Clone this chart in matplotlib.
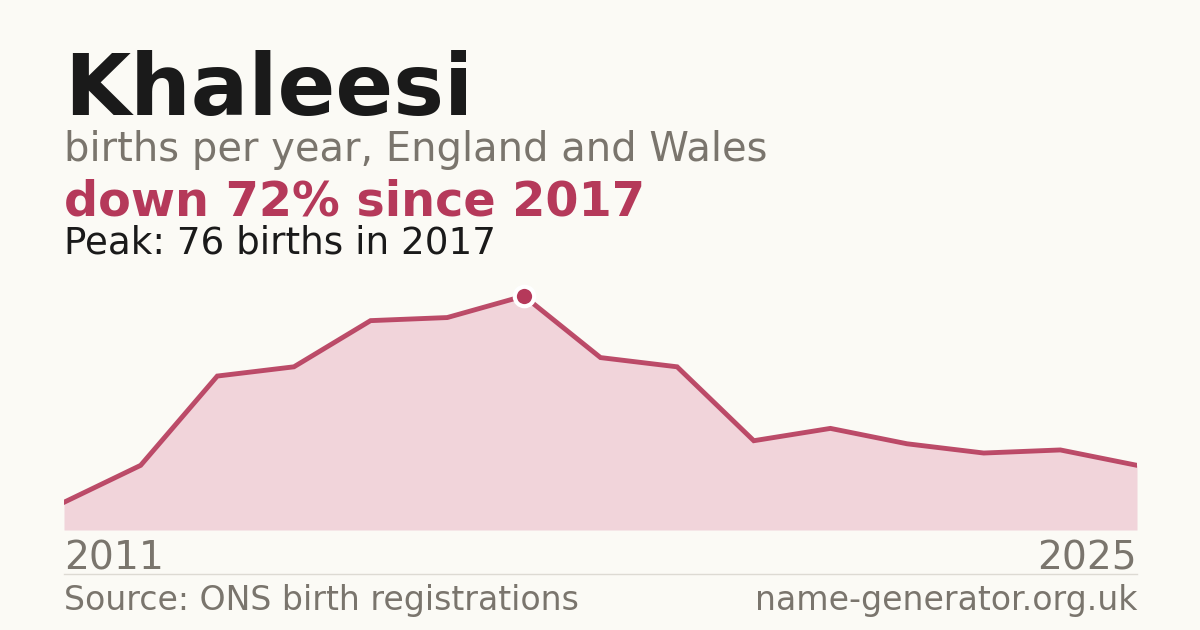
import matplotlib
matplotlib.use("Agg")
import matplotlib.pyplot as plt

# Khaleesi births per year, England and Wales (ONS)
years = [2011, 2012, 2013, 2014, 2015, 2016, 2017, 2018, 2019, 2020, 2021, 2022, 2023, 2024, 2025]
births = [9, 21, 50, 53, 68, 69, 76, 56, 53, 29, 33, 28, 25, 26, 21]
peak_year = 2017
peak_value = 76

BG = "#fbfaf5"
RED = "#b5395a"
FILL = "#f1d4da"
GREY = "#7a756d"
DARK = "#1a1a1a"

W, H = 1200, 630
fig = plt.figure(figsize=(W / 100, H / 100), dpi=100, facecolor=BG)


def px(x, y):
    """pixel coords (top-left origin) -> figure fraction"""
    return x / W, 1 - y / H


# chart area
left, right, top, bottom = 64, 1137, 280, 530
ax = fig.add_axes([left / W, 1 - bottom / H, (right - left) / W, (bottom - top) / H])
ax.set_facecolor("none")
ax.fill_between(years, births, 0, color=FILL, lw=0)
ax.plot(years, births, color=RED, lw=3.5, solid_joinstyle="miter", alpha=0.9)
ax.plot([peak_year], [peak_value], "o", ms=14, mfc=RED, mec="white", mew=3, zorder=5)
ax.set_xlim(years[0], years[-1])
ax.set_ylim(0, peak_value / ((bottom - 296) / (bottom - top)))
ax.axis("off")

# texts
fig.text(*px(64, 115), "Khaleesi", fontsize=61.5, fontweight="bold", color=DARK, va="baseline")
fig.text(*px(64, 161), "births per year, England and Wales", fontsize=28.8, color=GREY, va="baseline")
fig.text(*px(64, 215), "down 72% since 2017", fontsize=34.4, fontweight="bold", color=RED, va="baseline")
fig.text(*px(64, 254), "Peak: 76 births in 2017", fontsize=26.8, color=DARK, va="baseline")

fig.text(*px(64, 569), str(years[0]), fontsize=28.3, color=GREY, va="baseline")
fig.text(*px(1137, 569), str(years[-1]), fontsize=28.3, color=GREY, va="baseline", ha="right")

fig.add_artist(plt.Line2D([left / W, right / W], [1 - 574 / H] * 2, color="#dddad3", lw=1))

fig.text(*px(64, 610), "Source: ONS birth registrations", fontsize=23.9, color=GREY, va="baseline")
fig.text(*px(1137, 610), "name-generator.org.uk", fontsize=23.9, color=GREY, va="baseline", ha="right")

fig.savefig("out.png", dpi=100, facecolor=BG)
